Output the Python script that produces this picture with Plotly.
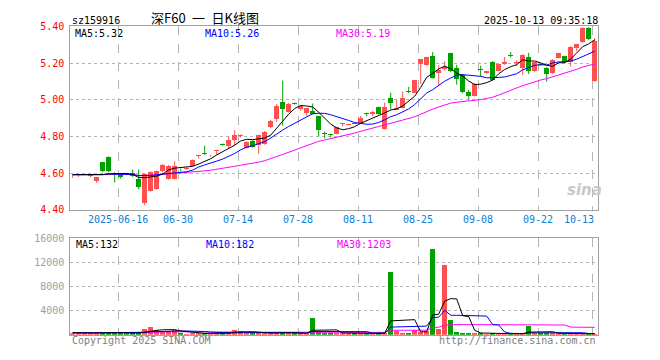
import plotly.graph_objects as go
import pandas as pd

# ---------------- data ----------------
dates = (["06-04", "06-05", "06-06", "06-09", "06-10", "06-11", "06-12", "06-13",
          "06-16", "06-17", "06-18", "06-19", "06-20", "06-23", "06-24", "06-25", "06-26", "06-27", "06-30"]
         + ["07-01", "07-02", "07-03", "07-04", "07-07", "07-08", "07-09", "07-10", "07-11",
            "07-14", "07-15", "07-16", "07-17", "07-18", "07-21", "07-22", "07-23", "07-24", "07-25",
            "07-28", "07-29", "07-30", "07-31"]
         + ["08-01", "08-04", "08-05", "08-06", "08-07", "08-08", "08-11", "08-12", "08-13", "08-14", "08-15",
            "08-18", "08-19", "08-20", "08-21", "08-22", "08-25", "08-26", "08-27", "08-28", "08-29"]
         + ["09-01", "09-02", "09-03", "09-04", "09-05", "09-08", "09-09", "09-10", "09-11", "09-12",
            "09-15", "09-16", "09-17", "09-18", "09-19", "09-22", "09-23", "09-24", "09-25", "09-26",
            "09-29", "09-30"]
         + ["10-09", "10-10", "10-13"])

open_ = [4.588, 4.588, 4.592, 4.585, 4.56, 4.66, 4.69, 4.603,
         4.588, 4.598, 4.60, 4.57, 4.44, 4.505, 4.515, 4.61, 4.568, 4.57,
         4.62, 4.622, 4.64, 4.695, 4.708, 4.692, 4.72, 4.76, 4.75, 4.782,
         4.805, 4.737, 4.775, 4.755, 4.758, 4.85, 4.898, 4.986, 4.935, 4.982,
         4.95, 4.93, 4.94, 4.909, 4.82, 4.812, 4.816, 4.868, 4.862, 4.872,
         4.872, 4.925, 4.925, 4.96, 4.842, 5.007, 4.947, 4.954, 5.047, 5.039,
         5.197, 5.189, 5.238, 5.146, 5.167, 5.254, 5.172, 5.137, 5.044, 5.021,
         5.165, 5.144, 5.207, 5.158, 5.193, 5.243, 5.198, 5.172, 5.233, 5.154,
         5.195, 5.175, 5.146, 5.228, 5.237, 5.207, 5.28, 5.312, 5.391, 5.10]
close = [4.592, 4.592, 4.592, 4.59, 4.577, 4.612, 4.612, 4.598,
         4.58, 4.594, 4.585, 4.525, 4.595, 4.605, 4.61, 4.645, 4.638, 4.64,
         4.615, 4.625, 4.67, 4.70, 4.705, 4.695, 4.727, 4.755, 4.78, 4.807,
         4.81, 4.772, 4.745, 4.807, 4.825, 4.886, 4.968, 4.95, 4.979, 4.979,
         4.968, 4.954, 4.923, 4.835, 4.816, 4.81, 4.851, 4.872, 4.864, 4.87,
         4.903, 4.922, 4.933, 4.924, 4.96, 4.982, 4.954, 5.012, 5.044, 5.105,
         5.22, 5.232, 5.119, 5.162, 5.181, 5.154, 5.111, 5.04, 5.023, 5.088,
         5.162, 5.154, 5.11, 5.193, 5.204, 5.24, 5.207, 5.246, 5.158, 5.204,
         5.19, 5.14, 5.219, 5.254, 5.207, 5.29, 5.303, 5.391, 5.33, 5.32]
high = [4.595, 4.594, 4.594, 4.592, 4.58, 4.662, 4.692, 4.605,
        4.59, 4.60, 4.62, 4.62, 4.60, 4.61, 4.615, 4.65, 4.645, 4.665,
        4.625, 4.63, 4.675, 4.70, 4.75, 4.70, 4.728, 4.762, 4.80, 4.835,
        4.812, 4.775, 4.78, 4.81, 4.83, 4.89, 4.977, 5.105, 4.983, 4.985,
        4.97, 4.956, 4.98, 4.91, 4.828, 4.815, 4.853, 4.873, 4.865, 4.874,
        4.912, 4.93, 4.94, 4.962, 4.985, 5.039, 4.998, 5.045, 5.07, 5.108,
        5.222, 5.234, 5.26, 5.19, 5.21, 5.256, 5.19, 5.14, 5.055, 5.09,
        5.186, 5.156, 5.21, 5.195, 5.233, 5.26, 5.215, 5.248, 5.256, 5.206,
        5.197, 5.178, 5.221, 5.256, 5.24, 5.292, 5.305, 5.395, 5.395, 5.335]
low = [4.575, 4.58, 4.59, 4.578, 4.547, 4.605, 4.605, 4.55,
       4.57, 4.59, 4.58, 4.512, 4.425, 4.50, 4.51, 4.605, 4.565, 4.565,
       4.61, 4.618, 4.635, 4.68, 4.70, 4.69, 4.70, 4.75, 4.737, 4.75,
       4.795, 4.735, 4.74, 4.705, 4.755, 4.845, 4.88, 4.86, 4.93, 4.975,
       4.94, 4.912, 4.92, 4.80, 4.79, 4.795, 4.812, 4.855, 4.86, 4.868,
       4.87, 4.91, 4.91, 4.92, 4.838, 4.947, 4.945, 4.952, 5.035, 5.035,
       5.085, 5.185, 5.115, 5.075, 5.16, 5.15, 5.082, 5.035, 5.0, 5.018,
       5.128, 5.14, 5.105, 5.155, 5.19, 5.23, 5.184, 5.135, 5.14, 5.15,
       5.185, 5.098, 5.14, 5.225, 5.204, 5.181, 5.265, 5.31, 5.325, 5.098]
volume = [320, 260, 240, 280, 360, 420, 380, 300,
          250, 200, 220, 350, 960, 1280, 800, 640, 640, 800,
          200, 180, 260, 220, 200, 180, 240, 200, 430, 850,
          640, 250, 220, 300, 280, 300, 480, 320, 250, 200,
          220, 240, 2720, 420, 300, 260, 250, 220, 200, 200,
          260, 240, 200, 220, 300, 10450, 530, 350, 300, 800,
          400, 590, 14200, 1000, 11600, 2400, 400, 290, 290, 220,
          220, 170, 200, 120, 140, 160, 120, 180, 1500, 200,
          230, 270, 250, 220, 190, 140, 130, 140, 120, 130]

tick_dates = ["06-16", "06-30", "07-14", "07-28", "08-11", "08-25", "09-08", "09-22", "10-13"]
tick_labels = ["2025-06-16", "06-30", "07-14", "07-28", "08-11", "08-25", "09-08", "09-22", "10-13"]
price_ticks = [4.40, 4.60, 4.80, 5.00, 5.20, 5.40]
vol_ticks = [4000, 8000, 12000, 16000]

# ---------------- derived ----------------
RED = "#FF5050"
GREEN = "#00A000"
n = len(dates)
xi = list(range(n))
cs = pd.Series(close)
vs = pd.Series(volume)
ma5 = cs.rolling(5, min_periods=1).mean()
ma10 = cs.rolling(10, min_periods=1).mean()
ma30 = cs.rolling(30, min_periods=1).mean()
vma5 = vs.rolling(5, min_periods=1).mean()
vma10 = vs.rolling(10, min_periods=1).mean()
vma30 = vs.rolling(30, min_periods=1).mean()

up = [c >= o for o, c in zip(open_, close)]
colors = [RED if u else GREEN for u in up]
body_base = [min(o, c) for o, c in zip(open_, close)]
body_h = [max(abs(c - o), 0.0045) for o, c in zip(open_, close)]

fig = go.Figure()

# wicks
for col in (RED, GREEN):
    wx, wy = [], []
    for i in range(n):
        if colors[i] == col:
            wx += [xi[i], xi[i], None]
            wy += [low[i], high[i], None]
    fig.add_trace(go.Scatter(x=wx, y=wy, mode="lines", line=dict(color=col, width=1),
                             hoverinfo="skip", showlegend=False, xaxis="x", yaxis="y"))

fig.add_trace(go.Bar(x=xi, y=body_h, base=body_base, marker=dict(color=colors, line=dict(width=0)),
                     width=0.8, showlegend=False, xaxis="x", yaxis="y"))

for s, c in ((ma30, "#FF00FF"), (ma10, "#0000FF"), (ma5, "#000000")):
    fig.add_trace(go.Scatter(x=xi, y=s, mode="lines", line=dict(color=c, width=1),
                             showlegend=False, xaxis="x", yaxis="y"))

fig.add_trace(go.Bar(x=xi, y=volume, marker=dict(color=colors, line=dict(width=0)),
                     width=0.8, showlegend=False, xaxis="x2", yaxis="y2"))
for s, c in ((vma30, "#FF00FF"), (vma10, "#0000FF"), (vma5, "#000000")):
    fig.add_trace(go.Scatter(x=xi, y=s, mode="lines", line=dict(color=c, width=1),
                             showlegend=False, xaxis="x2", yaxis="y2"))

W, H = 660, 360
x0, x1 = 70.3, 598.3
dom_x = [x0 / W, x1 / W]
grid_x = [dates.index(d) - 0.4 for d in tick_dates]
xr = [-0.4, n - 0.4]
mono = "DejaVu Sans Mono"
axis_common = dict(showline=True, mirror=True, linecolor="#A0A0A0", linewidth=1,
                   zeroline=False, fixedrange=True)

fig.update_layout(
    width=W, height=H, margin=dict(l=0, r=0, t=0, b=0),
    paper_bgcolor="white", plot_bgcolor="white", bargap=0,
    font=dict(family=mono, size=10),
    xaxis=dict(domain=dom_x, range=xr, tickvals=grid_x, showticklabels=False, ticks="",
               showgrid=True, gridcolor="#B4B4B4", griddash="dash", gridwidth=1, **axis_common),
    yaxis=dict(domain=[1 - 211 / H, 1 - 21 / H], range=[4.40, 5.40], tickvals=price_ticks,
               ticktext=["%.2f" % v for v in price_ticks], tickfont=dict(color="#FF0000", size=10, family=mono),
               ticks="", ticklabelstandoff=3, showgrid=True, gridcolor="#B4B4B4", griddash="dot", **axis_common),
    xaxis2=dict(domain=dom_x, range=xr, tickvals=grid_x, showticklabels=False, ticks="", anchor="y2",
                showgrid=True, gridcolor="#B4B4B4", griddash="dash", gridwidth=1, **axis_common),
    yaxis2=dict(domain=[1 - 340 / H, 1 - 240 / H], range=[0, 16000], tickvals=vol_ticks,
                ticktext=[str(v) for v in vol_ticks], tickfont=dict(color="#A0A0A0", size=10, family=mono),
                ticks="", ticklabelstandoff=3, anchor="x2", showgrid=True, gridcolor="#B4B4B4",
                griddash="dot", **axis_common),
)

ann = []


def txt(x, y, s, color="#000000", size=10, anchor="left", family=mono, xref="paper", pad=1):
    ann.append(dict(x=x / W if xref == "paper" else x, y=1 - y / H, xref=xref, yref="paper", text=s,
                    showarrow=False, xanchor=anchor, yanchor="middle", borderpad=pad,
                    font=dict(color=color, size=size, family=family)))


txt(70, 15, "sz159916")
txt(204.5, 12, "深F60\u2002一\u2002日K线图", size=13, anchor="center", family="Noto Sans CJK SC", pad=0)
txt(600, 15, "2025-10-13 09:35:18", anchor="right")
txt(74, 28.5, "MA5:%.2f" % 5.32, pad=0)
txt(204, 28.5, "MA10:%.2f" % 5.26, color="#0000FF", pad=0)
txt(335, 28.5, "MA30:%.2f" % 5.19, color="#FF00FF", pad=0)
txt(74, 247, "MA5:132")
txt(204, 247, "MA10:182", color="#0000FF")
txt(335, 247, "MA30:1203", color="#FF00FF")
txt(70, 346, "Copyright 2025 SINA.COM", color="#808080")
txt(598, 346, "http://finance.sina.com.cn", color="#808080", anchor="right")
for d, lab in zip(tick_dates, tick_labels):
    ix = dates.index(d) - 0.4
    anchor = "right" if d == tick_dates[-1] else "center"
    xx = ix + 0.55 if anchor == "right" else ix
    txt(xx, 221, lab, color="#0A80D8", anchor=anchor, xref="x")
ann.append(dict(x=584 / W, y=1 - 190 / H, xref="paper", yref="paper", text="<b><i>sina</i></b>",
                showarrow=False, xanchor="center", yanchor="middle",
                font=dict(color="#C8C8C8", size=15, family="DejaVu Sans")))
fig.update_layout(annotations=ann)

fig.write_html("out.html", config={"displayModeBar": False, "staticPlot": True},
               post_script="document.body.style.margin='0';document.body.style.overflow='hidden';")
